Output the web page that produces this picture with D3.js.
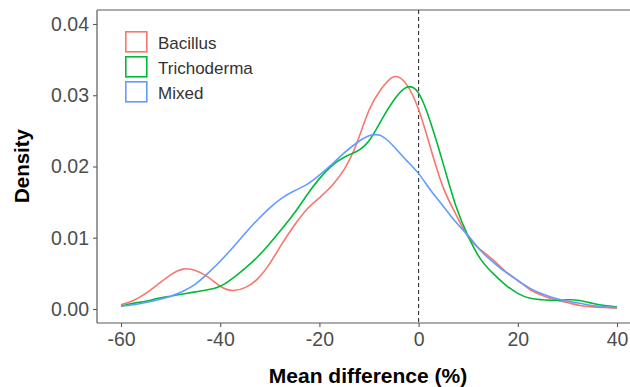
<!DOCTYPE html>
<html>
<head>
<meta charset="utf-8">
<script src="https://cdn.jsdelivr.net/npm/d3@7"></script>
<style>
  html, body { margin: 0; padding: 0; background: #fff; }
  svg { display: block; font-family: "Liberation Sans", Arial, sans-serif; }
</style>
</head>
<body>
<svg id="chart" width="630" height="387"></svg>
<script>
// ---- Data ----
const xGrid = [-60, -57.5, -55, -52.5, -50, -47.5, -45, -42.5, -40, -37.5, -35, -32.5, -30, -27.5, -25, -22.5, -20, -17.5, -15, -12.5, -10, -7.5, -5, -2.5, 0, 2.5, 5, 7.5, 10, 12.5, 15, 17.5, 20, 22.5, 25, 27.5, 30, 32.5, 35, 37.5, 40];
const bacillus = [0.0006, 0.0012, 0.0022, 0.0035, 0.0048, 0.0056, 0.0054, 0.0045, 0.0032, 0.0026, 0.0030, 0.0042, 0.0064, 0.0092, 0.0118, 0.0140, 0.0156, 0.0173, 0.0196, 0.0232, 0.0279, 0.0309, 0.0326, 0.0316, 0.0280, 0.0224, 0.0170, 0.0133, 0.0101, 0.0083, 0.0069, 0.0053, 0.0040, 0.0027, 0.0019, 0.0013, 0.0009, 0.0005, 0.0003, 0.0002, 0.0001];
const trichoderma = [0.0004, 0.0008, 0.0011, 0.0015, 0.0018, 0.0021, 0.0024, 0.0027, 0.0032, 0.0043, 0.0057, 0.0073, 0.0092, 0.0113, 0.0135, 0.0160, 0.0183, 0.0201, 0.0213, 0.0221, 0.0236, 0.0265, 0.0293, 0.0311, 0.0303, 0.0260, 0.0203, 0.0145, 0.0102, 0.0070, 0.0050, 0.0034, 0.0022, 0.0015, 0.0013, 0.0012, 0.0013, 0.0012, 0.0008, 0.0005, 0.0003];
const mixed = [0.0004, 0.0006, 0.0009, 0.0013, 0.0018, 0.0025, 0.0035, 0.0050, 0.0067, 0.0086, 0.0106, 0.0125, 0.0142, 0.0156, 0.0166, 0.0175, 0.0188, 0.0203, 0.0219, 0.0233, 0.0243, 0.0243, 0.0228, 0.0209, 0.0190, 0.0166, 0.0144, 0.0122, 0.0103, 0.0082, 0.0066, 0.0052, 0.0040, 0.0029, 0.0021, 0.0015, 0.0011, 0.0008, 0.0005, 0.0003, 0.0002];
const seriesNames = ["Bacillus", "Trichoderma", "Mixed"];
const seriesColors = ["#F8766D", "#00BA38", "#619CFF"];
const xTicks = [-60, -40, -20, 0, 20, 40];
const yTicks = [0, 0.01, 0.02, 0.03, 0.04];
const yTickLabels = ["0.00", "0.01", "0.02", "0.03", "0.04"];
const refLineX = 0;

const series = [bacillus, trichoderma, mixed].map((vals, i) => ({
  name: seriesNames[i], color: seriesColors[i],
  points: xGrid.map((x, j) => ({ x, y: vals[j] }))
}));

// ---- Layout ----
const svg = d3.select("#chart");
const panel = { left: 97, top: 10, right: 630, bottom: 323 };
const x = d3.scaleLinear().domain([-60, 40]).range([121, 617]);
const y = d3.scaleLinear().domain([0, 0.04]).range([309, 24]);

const axisColor = "#5a5a5a";
const tickTextColor = "#4d4d4d";

// panel top border
svg.append("line").attr("x1", panel.left).attr("x2", panel.right)
  .attr("y1", panel.top).attr("y2", panel.top)
  .attr("stroke", axisColor).attr("stroke-width", 1.2);

// reference dashed line
svg.append("line").attr("x1", x(refLineX)).attr("x2", x(refLineX))
  .attr("y1", panel.top).attr("y2", panel.bottom)
  .attr("stroke", "#333").attr("stroke-width", 1.1)
  .attr("stroke-dasharray", "4,3");

// density lines
const line = d3.line().x(d => x(d.x)).y(d => y(d.y)).curve(d3.curveNatural);
svg.append("g").selectAll("path").data(series).join("path")
  .attr("d", d => line(d.points))
  .attr("fill", "none")
  .attr("stroke", d => d.color)
  .attr("stroke-width", 1.6);

// axes
const yAxis = d3.axisLeft(y).tickValues(yTicks).tickFormat((d, i) => yTickLabels[i])
  .tickSize(4).tickPadding(4);
const gy = svg.append("g").attr("transform", `translate(${panel.left},0)`).call(yAxis);
gy.select(".domain").remove();
gy.append("line").attr("x1", 0).attr("x2", 0).attr("y1", panel.top).attr("y2", panel.bottom)
  .attr("stroke", axisColor).attr("stroke-width", 1.2);

const xAxis = d3.axisBottom(x).tickValues(xTicks).tickFormat(d3.format("d"))
  .tickSize(4).tickPadding(5);
const gx = svg.append("g").attr("transform", `translate(0,${panel.bottom})`).call(xAxis);
gx.select(".domain").remove();
gx.append("line").attr("x1", panel.left).attr("x2", panel.right).attr("y1", 0).attr("y2", 0)
  .attr("stroke", axisColor).attr("stroke-width", 1.2);

[gx, gy].forEach(g => {
  g.selectAll(".tick line").attr("stroke", axisColor).attr("stroke-width", 1.1);
  g.selectAll(".tick text").attr("fill", tickTextColor)
    .style("font-size", "19.5px").style("font-family", "'Liberation Sans', Arial, sans-serif");
});
gx.selectAll(".tick text").text(d => d < 0 ? "-" + Math.abs(d) : d);

// axis titles
svg.append("text").attr("x", 368).attr("y", 383).attr("text-anchor", "middle")
  .style("font-size", "21px").style("font-weight", "bold").attr("fill", "#000")
  .text("Mean difference (%)");
svg.append("text").attr("transform", "translate(29,166) rotate(-90)").attr("text-anchor", "middle")
  .style("font-size", "20.5px").style("font-weight", "bold").attr("fill", "#000")
  .text("Density");

// legend
const legend = svg.append("g").attr("transform", "translate(125,31)");
const items = legend.selectAll("g").data(series).join("g")
  .attr("transform", (d, i) => `translate(0,${i * 25})`);
items.append("rect").attr("x", 0.8).attr("y", 0.8).attr("width", 21).attr("height", 20)
  .attr("fill", "none").attr("stroke", d => d.color).attr("stroke-width", 1.6);
items.append("text").attr("x", 33).attr("y", 17.5)
  .style("font-size", "17px").attr("fill", "#333")
  .text(d => d.name);
</script>
</body>
</html>
